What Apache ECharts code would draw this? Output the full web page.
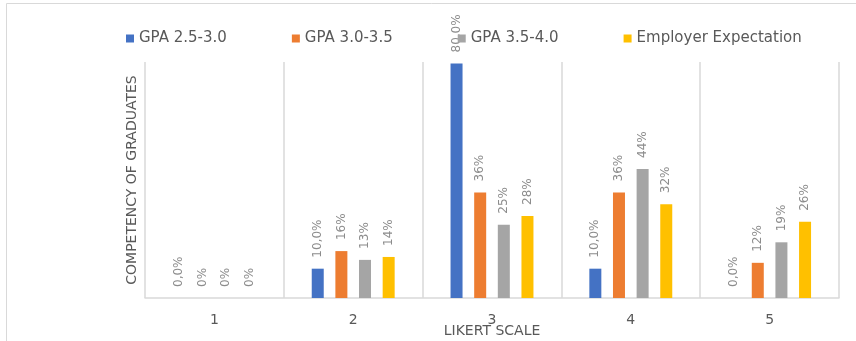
<!DOCTYPE html>
<html>
<head>
<meta charset="utf-8">
<script src="https://cdn.jsdelivr.net/npm/echarts@6/dist/echarts.min.js"></script>
<style>
  html, body { margin: 0; padding: 0; background: #fff; }
  #chart { width: 856px; height: 341px; }
</style>
</head>
<body>
<div id="chart"></div>
<script>
// likert categories
var categories = ["1", "2", "3", "4", "5"];

var seriesNames = ["GPA 2.5-3.0", "GPA 3.0-3.5", "GPA 3.5-4.0", "Employer Expectation"];

// percentages per likert step
var gpaLow    = [0, 10, 80, 10, 0];
var gpaMid    = [0, 16, 36, 36, 12];
var gpaHigh   = [0, 13, 25, 44, 19];
var employer  = [0, 14, 28, 32, 26];

// label texts as printed on the chart
var gpaLowLabels   = ["0,0%", "10,0%", "80,0%", "10,0%", "0,0%"];
var gpaMidLabels   = ["0%", "16%", "36%", "36%", "12%"];
var gpaHighLabels  = ["0%", "13%", "25%", "44%", "19%"];
var employerLabels = ["0%", "14%", "28%", "32%", "26%"];

var colors = ["#4472c4", "#ed7d31", "#a5a5a5", "#ffc000"];
var textGray = "#595959";
var font = "DejaVu Sans";

function makeSeries(name, data, labels) {
    return {
        name: name,
        type: "bar",
        data: data,
        barWidth: 12,
        barGap: "97%",
        label: {
            show: true,
            position: "top",
            rotate: 90,
            align: "left",
            verticalAlign: "middle",
            distance: 11,
            color: "#8c8c8c",
            fontFamily: font,
            fontSize: 12,
            formatter: function (p) { return labels[p.dataIndex]; }
        }
    };
}

var chart = echarts.init(document.getElementById("chart"), null, { renderer: "canvas" });

chart.setOption({
    animation: false,
    color: colors,
    textStyle: { fontFamily: font },
    legend: {
        data: seriesNames,
        left: 126,
        top: 31,
        padding: 0,
        itemWidth: 8,
        itemHeight: 8,
        itemGap: 65,
        icon: "rect",
        textStyle: { color: textGray, fontSize: 15, fontFamily: font }
    },
    graphic: [{
        type: "rect",
        shape: { x: 6.5, y: 3.5, width: 900, height: 400 },
        style: { fill: "none", stroke: "#d9d9d9", lineWidth: 1 },
        silent: true
    }],
    grid: { left: 145, right: 17, top: 62, bottom: 43, outerBoundsMode: "none" },
    xAxis: {
        type: "category",
        data: categories,
        axisLine: { lineStyle: { color: "#d9d9d9", width: 1.5 } },
        axisTick: { show: false },
        splitLine: { show: true, lineStyle: { color: "#d9d9d9", width: 1.5 } },
        axisLabel: { color: textGray, fontSize: 14, margin: 15, fontFamily: font },
        name: "LIKERT SCALE",
        nameLocation: "middle",
        nameGap: 26,
        nameMoveOverlap: false,
        nameTextStyle: { color: textGray, fontSize: 14, fontFamily: font }
    },
    yAxis: {
        type: "value",
        min: 0,
        max: 80.5,
        axisLine: { show: false },
        axisTick: { show: false },
        axisLabel: { show: false },
        splitLine: { show: false },
        name: "COMPETENCY OF GRADUATES",
        nameLocation: "middle",
        nameGap: 6,
        nameMoveOverlap: false,
        nameTextStyle: { color: textGray, fontSize: 14, fontFamily: font }
    },
    series: [
        makeSeries(seriesNames[0], gpaLow, gpaLowLabels),
        makeSeries(seriesNames[1], gpaMid, gpaMidLabels),
        makeSeries(seriesNames[2], gpaHigh, gpaHighLabels),
        makeSeries(seriesNames[3], employer, employerLabels)
    ]
});
</script>
</body>
</html>
